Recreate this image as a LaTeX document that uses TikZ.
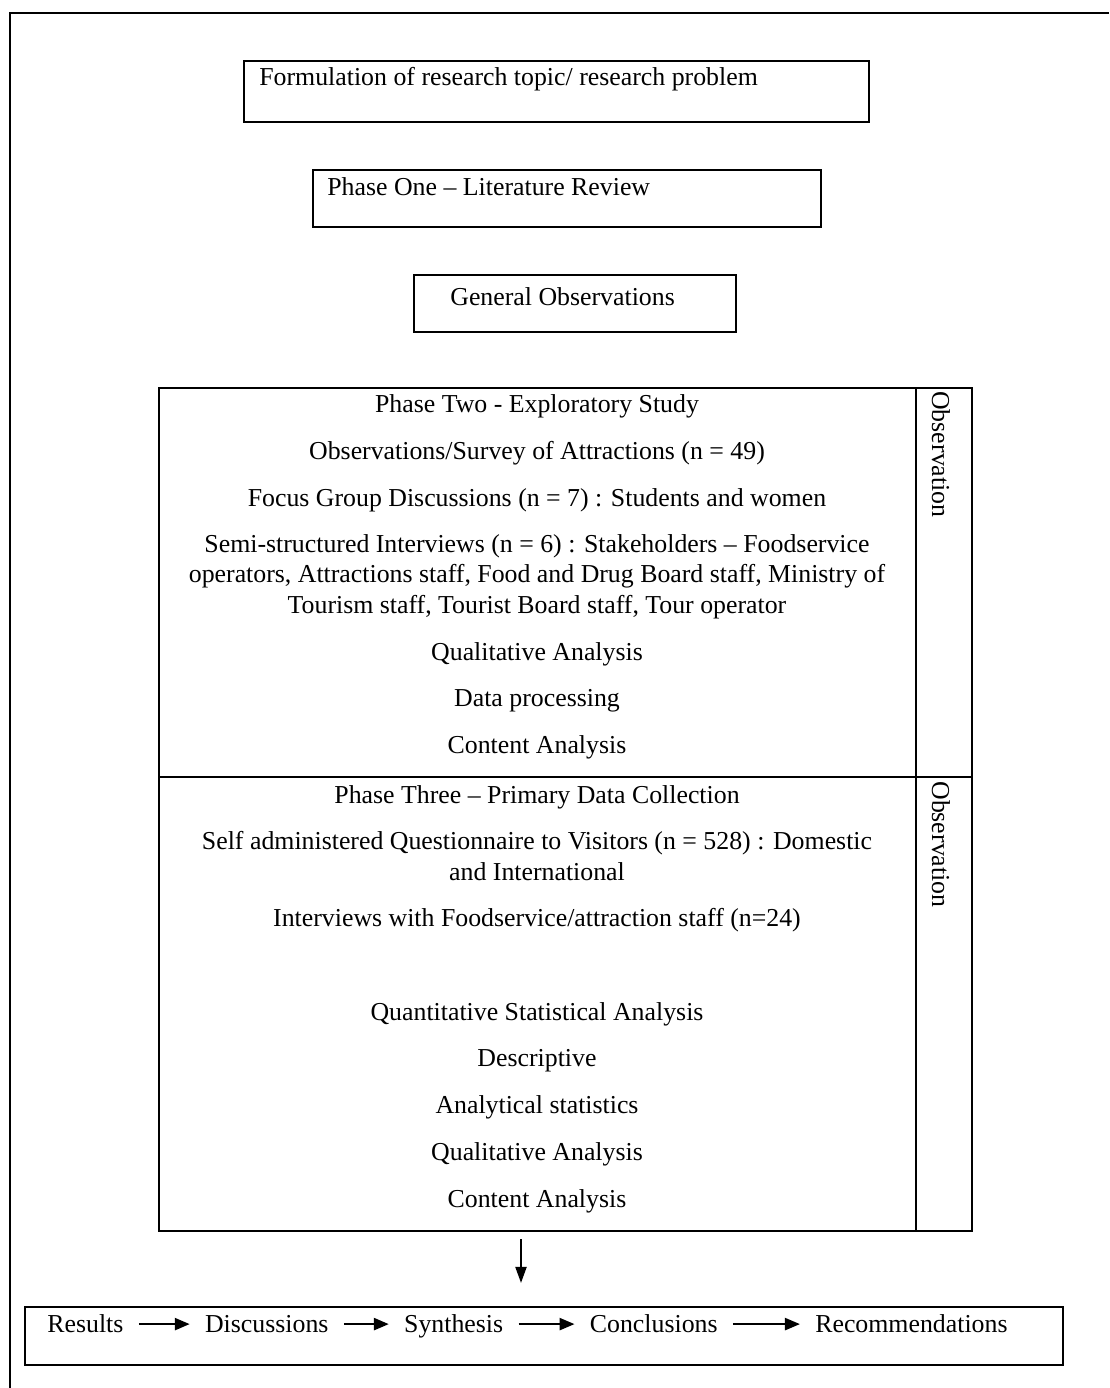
\documentclass[tikz,border=0pt]{standalone}
\usepackage{fontspec}
\setmainfont{Liberation Serif}
\usepackage{tikz}
\usetikzlibrary{positioning, arrows.meta, fit}
\tikzset{
  every node/.style={font=\fontsize{14.7}{17.3}\selectfont},
  framebox/.style={draw, line width=1.2pt, inner sep=0pt},
  steptext/.style={inner sep=0pt, anchor=base west},
  phasetext/.style={inner sep=0pt, anchor=base, align=center},
  sidetext/.style={inner sep=0pt, anchor=base west, rotate=-90},
  outword/.style={inner sep=0pt, text height=12pt, text depth=3pt},
  outarrow/.style={-{Triangle[length=0.3cm, width=0.24cm]}, line width=1.4pt,
    shorten <=0.3cm, shorten >=0.3cm},
  downarrow/.style={-{Triangle[length=0.32cm, width=0.22cm]}, line width=1.1pt}
}

\begin{document}
\begin{tikzpicture}[x=0.02cm, y=-0.02cm]
\useasboundingbox (0,0) rectangle (1109,1388);

% Page frame (left and top edge)
\draw[line width=1.2pt] (10,1388) |- (1109,13);

% Opening steps
\node[framebox, fit={(244,61) (869,122)}] (topic) {};
\node[steptext] (topictxt) at (259,86) {Formulation of research topic/ research problem};

\node[framebox, fit={(313,170) (821,227)}] (litrev) {};
\node[steptext] (litrevtxt) at (327,196) {Phase One -- Literature Review};

\node[framebox, fit={(414,275) (736,332)}] (genobs) {};
\node[steptext] (genobstxt) at (450,306) {General Observations};

% Phase Two
\node[framebox, fit={(159,388) (972,777)}] (ph2) {};
\draw[line width=1.2pt] (916,388) -- (916,777);
\node[sidetext] (obs2) at (932,391) {Observation};
\node[phasetext] (p2a) at (537,413) {Phase Two - Exploratory Study};
\node[phasetext] (p2b) at (537,459) {Observations/Survey of Attractions (n = 49)};
\node[phasetext] (p2c) at (537,506) {Focus Group Discussions (n = 7) : Students and women};
% base of a wrapped node sits on its last line
\node[phasetext] (p2d) at (537,613)
  {Semi-structured Interviews (n = 6) : Stakeholders -- Foodservice\\
   operators, Attractions staff, Food and Drug Board staff, Ministry of\\
   Tourism staff, Tourist Board staff, Tour operator};
\node[phasetext] (p2e) at (537,660) {Qualitative Analysis};
\node[phasetext] (p2f) at (537,706) {Data processing};
\node[phasetext] (p2g) at (537,753) {Content Analysis};

% Phase Three
\node[framebox, fit={(159,777) (972,1231)}] (ph3) {};
\draw[line width=1.2pt] (916,777) -- (916,1231);
\node[sidetext] (obs3) at (932,781) {Observation};
\node[phasetext] (p3a) at (537,803) {Phase Three -- Primary Data Collection};
\node[phasetext] (p3b) at (537,880)
  {Self administered Questionnaire to Visitors (n = 528) : Domestic\\
   and International};
\node[phasetext] (p3c) at (537,926) {Interviews with Foodservice/attraction staff (n=24)};
\node[phasetext] (p3d) at (537,1020) {Quantitative Statistical Analysis};
\node[phasetext] (p3e) at (537,1066) {Descriptive};
\node[phasetext] (p3f) at (537,1113) {Analytical statistics};
\node[phasetext] (p3g) at (537,1160) {Qualitative Analysis};
\node[phasetext] (p3h) at (537,1207) {Content Analysis};

% Outcomes
\node[framebox, fit={(25,1307) (1063,1365)}] (outbox) {};
\node[outword, anchor=base west] (res) at (47,1332) {Results};
\node[outword, right=1.62cm of res] (disc) {Discussions};
\node[outword, right=1.5cm of disc] (synth) {Synthesis};
\node[outword, right=1.72cm of synth] (concl) {Conclusions};
\node[outword, right=1.94cm of concl] (recom) {Recommendations};

\foreach \a/\b in {res/disc, disc/synth, synth/concl, concl/recom}
  \draw[outarrow] (\a.east) -- (\b.west);

\coordinate (arrx) at (521,0);
\draw[downarrow, shorten <=0.14cm, shorten >=0.46cm]
  (ph3.south -| arrx) -- (outbox.north -| arrx);

\end{tikzpicture}
\end{document}
